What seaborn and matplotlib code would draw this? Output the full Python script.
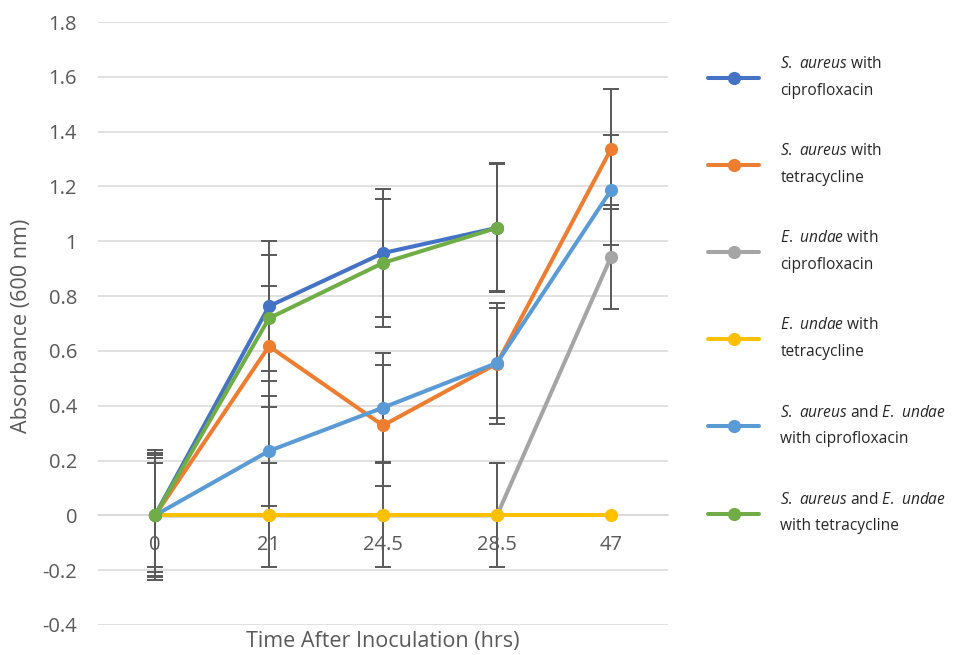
import matplotlib
matplotlib.use("Agg")
import matplotlib.pyplot as plt
import seaborn as sns
import numpy as np
import pandas as pd

# ---- data ----
times = ["0", "21", "24.5", "28.5", "47"]
series_names = [
    r"$\it{S.\,\,aureus}$ with" + "\n" + "ciprofloxacin",
    r"$\it{S.\,\,aureus}$ with" + "\n" + "tetracycline",
    r"$\it{E.\,\,undae}$ with" + "\n" + "ciprofloxacin",
    r"$\it{E.\,\,undae}$ with" + "\n" + "tetracycline",
    r"$\it{S.\,\,aureus}$ and $\it{E.\,\,undae}$" + "\n" + "with ciprofloxacin",
    r"$\it{S.\,\,aureus}$ and $\it{E.\,\,undae}$" + "\n" + "with tetracycline",
]
sa_cipro = [0, 0.763, 0.957, 1.049, np.nan]
sa_tetra = [0, 0.617, 0.328, 0.554, 1.336]
eu_cipro = [0, 0, 0, 0, 0.943]
eu_tetra = [0, 0, 0, 0, 0]
mix_cipro = [0, 0.235, 0.393, 0.556, 1.186]
mix_tetra = [0, 0.719, 0.921, 1.049, np.nan]

err_sa_cipro = [0.237, 0.238, 0.235, 0.235, np.nan]
err_sa_tetra = [0.22, 0.22, 0.222, 0.22, 0.22]
err_eu_cipro = [0.19, 0.19, 0.19, 0.19, 0.19]
err_eu_tetra = [np.nan, np.nan, np.nan, np.nan, np.nan]
err_mix_cipro = [0.208, 0.2, 0.2, 0.2, 0.2]
err_mix_tetra = [0.226, 0.23, 0.232, 0.232, np.nan]

colors = ["#4472C4", "#ED7D31", "#A5A5A5", "#FFC000", "#5B9BD5", "#70AD47"]
ytick_vals = [-0.4, -0.2, 0, 0.2, 0.4, 0.6, 0.8, 1.0, 1.2, 1.4, 1.6, 1.8]
ytick_labels = ["-0.4", "-0.2", "0", "0.2", "0.4", "0.6", "0.8", "1", "1.2", "1.4", "1.6", "1.8"]

values = [sa_cipro, sa_tetra, eu_cipro, eu_tetra, mix_cipro, mix_tetra]
errors = [err_sa_cipro, err_sa_tetra, err_eu_cipro, err_eu_tetra, err_mix_cipro, err_mix_tetra]

rows = []
for name, vals, errs in zip(series_names, values, errors):
    for i, (t, v, e) in enumerate(zip(times, vals, errs)):
        rows.append({"pos": i, "time": t, "series": name, "value": v, "err": e})
df = pd.DataFrame(rows)

# ---- style ----
sns.set_theme(style="white")
plt.rcParams["font.family"] = ["Open Sans", "DejaVu Sans"]
plt.rcParams["mathtext.fontset"] = "custom"
plt.rcParams["mathtext.it"] = "Open Sans:italic"
plt.rcParams["mathtext.rm"] = "Open Sans"

TXT = "#595959"
fig = plt.figure(figsize=(9.6, 6.55), dpi=100)
ax = fig.add_axes([98 / 960, 30 / 655, 570 / 960, 603 / 655])

# error bars (below lines)
for name, col in zip(series_names, colors):
    sub = df[(df["series"] == name) & df["err"].notna() & df["value"].notna()]
    if len(sub):
        ax.errorbar(sub["pos"], sub["value"], yerr=sub["err"], fmt="none",
                    ecolor="#595959", elinewidth=1.4, capsize=5.5, capthick=1.4, zorder=2)

sns.lineplot(data=df.dropna(subset=["value"]), x="pos", y="value", hue="series",
             hue_order=series_names, palette=colors, marker="o", markersize=9.5,
             markeredgewidth=0, linewidth=2.9, sort=False, ax=ax, zorder=3)

ax.set_xlim(-0.5, 4.5)
ax.set_ylim(-0.4, 1.8)
ax.set_yticks(ytick_vals)
ax.set_yticklabels(ytick_labels)
ax.set_xticks(range(len(times)))
ax.set_xticklabels(times)
ax.grid(axis="y", color="#D9D9D9", linewidth=1.1)
ax.grid(axis="x", visible=False)
ax.set_axisbelow(True)
for s in ["top", "right", "left"]:
    ax.spines[s].set_visible(False)
ax.spines["bottom"].set_position(("data", 0))
ax.spines["bottom"].set_color("#D9D9D9")
ax.spines["bottom"].set_linewidth(1.1)
ax.tick_params(axis="x", length=0, pad=14, labelsize=14.5, labelcolor=TXT)
ax.tick_params(axis="y", length=0, pad=15, labelsize=14.5, labelcolor=TXT)
ax.set_xlabel("")
ax.set_ylabel("")
fig.text(22 / 960, 1 - 326 / 655, "Absorbance (600 nm)", rotation=90, ha="center", va="center",
         fontsize=15.5, color=TXT)
fig.text(383 / 960, 1 - 642 / 655, "Time After Inoculation (hrs)", ha="center", va="center",
         fontsize=15.5, color=TXT)

handles, labels = ax.get_legend_handles_labels()
if ax.legend_:
    ax.legend_.remove()
leg = fig.legend(handles, labels, loc="upper left", bbox_to_anchor=(708 / 960, 1 - 56 / 655),
                 frameon=False, fontsize=11.2, handlelength=3.3, handletextpad=1.35,
                 labelspacing=2.85, borderpad=0, borderaxespad=0)
for t in leg.get_texts():
    t.set_color("#262626")
    t.set_linespacing(1.9)

fig.savefig("out.png", dpi=100, facecolor="white")
